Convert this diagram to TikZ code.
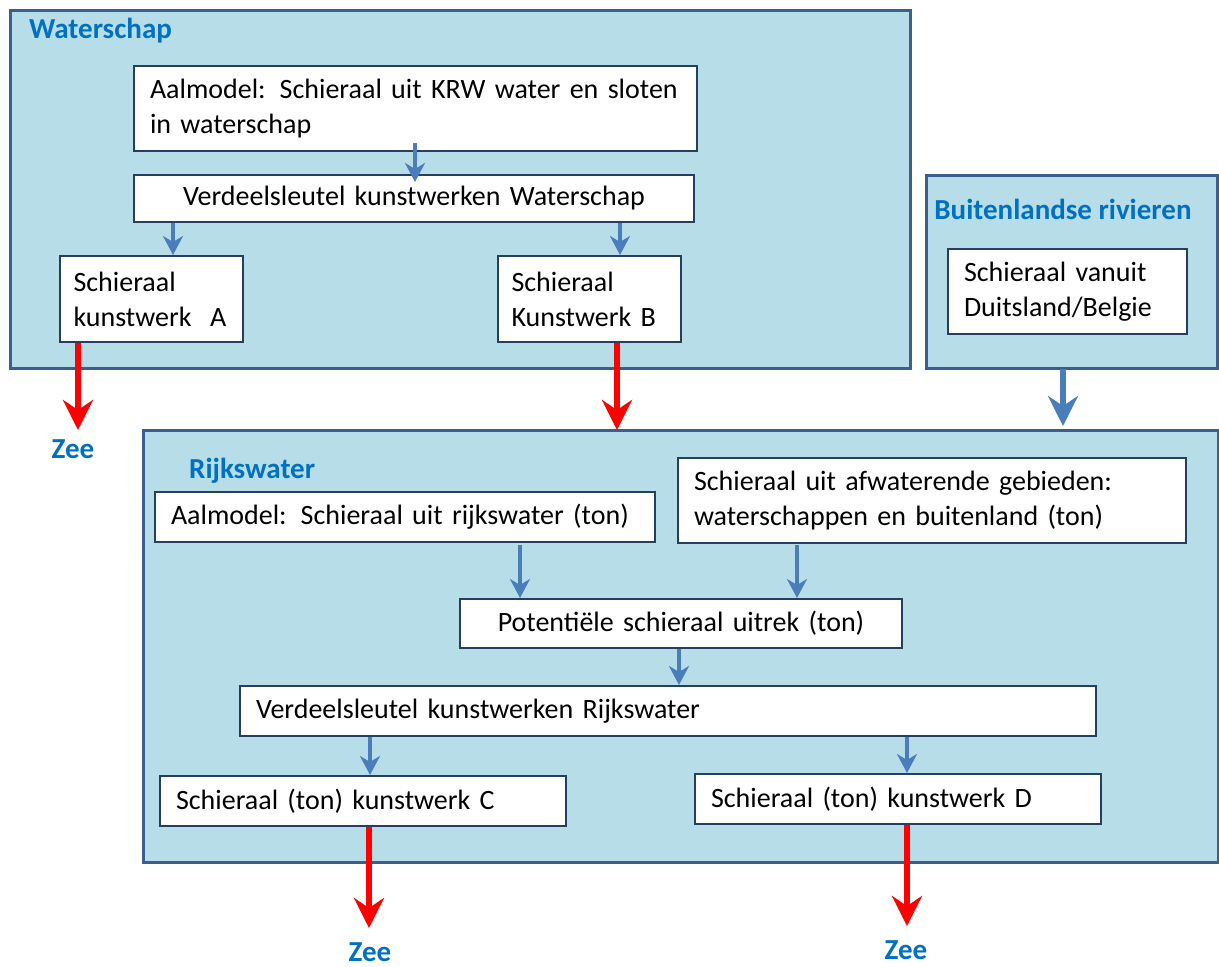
\documentclass[tikz,border=0pt]{standalone}
\usepackage{fontspec}
\setmainfont{Carlito}
\usetikzlibrary{arrows.meta}
\definecolor{panelfill}{HTML}{B7DEE8}
\definecolor{panelline}{HTML}{3B5E8C}
\definecolor{boxline}{HTML}{243F60}
\definecolor{arrblue}{HTML}{4A7EBB}
\definecolor{lblblue}{HTML}{0070C0}
\definecolor{arrred}{HTML}{FF0000}
\tikzset{
  panel/.style={draw=panelline, line width=3pt, fill=panelfill},
  wbox/.style={draw=boxline, line width=2pt, fill=white, inner xsep=16pt, inner ysep=4pt,
    font=\fontsize{28}{35}\selectfont, align=left},
  cbox/.style={wbox, align=center},
  plabel/.style={font=\fontsize{29}{32}\selectfont\bfseries, text=lblblue, inner sep=0pt},
  barrow/.style={draw=arrblue, line width=3.5pt, -{Stealth[length=19pt,width=20pt,inset=6pt]}},
  bigblue/.style={draw=arrblue, line width=6pt, -{Stealth[length=30pt,width=30pt,inset=10pt]}},
  rarrow/.style={draw=arrred, line width=6pt, -{Stealth[length=30pt,width=30pt,inset=10pt]}},
}
\begin{document}
\begin{tikzpicture}[x=1pt,y=-1pt]
\useasboundingbox (0,0) rectangle (1219,967);
% panels
\draw[panel] (10,10) rectangle (910,368);
\draw[panel] (926,175) rectangle (1217,368);
\draw[panel] (143,430) rectangle (1218,862);
\node[plabel, anchor=west] (lw) at (29,31) {Waterschap};
\node[plabel, anchor=center] (lb) at (1063,209) {Buitenlandse rivieren};
\node[plabel, anchor=west] (lr) at (189,471) {Rijkswater};
% Waterschap boxes
\node[wbox, minimum width=563, minimum height=85, text width=531] (A1) at (415.5,108.5)
  {Aalmodel: Schieraal uit KRW water en sloten\\in waterschap};
\node[cbox, minimum width=560, minimum height=47, text width=528] (V1) at (414,198.5)
  {Verdeelsleutel kunstwerken Waterschap};
\node[wbox, inner xsep=13.5pt, minimum width=183, minimum height=86, text width=156] (SA) at (151.5,299)
  {Schieraal\\kunstwerk\ \ A};
\node[wbox, inner xsep=13.5pt, minimum width=183, minimum height=86, text width=156] (SB) at (589.5,299)
  {Schieraal\\Kunstwerk B};
% Buitenland
\node[wbox, minimum width=239, minimum height=85, text width=207] (SD) at (1067.5,291.5)
  {Schieraal vanuit\\Duitsland/Belgie};
% Rijkswater boxes
\node[wbox, minimum width=500, minimum height=50, text width=468] (R1) at (405,517)
  {Aalmodel: Schieraal uit rijkswater (ton)};
\node[wbox, minimum width=508, minimum height=85, text width=476] (R2) at (932,500.5)
  {Schieraal uit afwaterende gebieden:\\waterschappen en buitenland (ton)};
\node[cbox, minimum width=442, minimum height=49, text width=410] (P) at (681,623.5)
  {Potentiële schieraal uitrek (ton)};
\node[wbox, minimum width=856, minimum height=50, text width=824] (V2) at (668,711)
  {Verdeelsleutel kunstwerken Rijkswater};
\node[wbox, minimum width=406, minimum height=50, text width=374] (C) at (363,801)
  {Schieraal (ton) kunstwerk C};
\node[wbox, minimum width=406, minimum height=50, text width=374] (D) at (898,799)
  {Schieraal (ton) kunstwerk D};
% Zee labels
\node[plabel] (z1) at (73,449) {Zee};
\node[plabel] (z2) at (370,952) {Zee};
\node[plabel] (z3) at (906,950) {Zee};
% arrow end points
\coordinate (a1s) at (415,143);
\coordinate (a1e) at (415,182);
\coordinate (r1s) at (520,545);
\coordinate (r2s) at (797,545);
\coordinate (bs) at (1063,369);
\coordinate (be) at (1063,426);
\coordinate (z1t) at (78,430);
\coordinate (sbt) at (617,430);
\coordinate (z2t) at (369,928);
\coordinate (z3t) at (907,926);
% blue arrows
\draw[barrow] (a1s) -- (a1e);
\draw[barrow] (V1.south -| 173,0) -- (SA.north -| 173,0);
\draw[barrow] (V1.south -| 620,0) -- (SB.north -| 620,0);
\draw[barrow] (r1s) -- (P.north -| r1s);
\draw[barrow] (r2s) -- (P.north -| r2s);
\draw[barrow] (P.south -| 679,0) -- (V2.north -| 679,0);
\draw[barrow] (V2.south -| 370,0) -- (C.north -| 370,0);
\draw[barrow] (V2.south -| 907,0) -- (D.north -| 907,0);
\draw[bigblue] (bs) -- (be);
% red arrows
\draw[rarrow] (SA.south -| z1t) -- (z1t);
\draw[rarrow] (SB.south -| sbt) -- (sbt);
\draw[rarrow] (C.south -| z2t) -- (z2t);
\draw[rarrow] (D.south -| z3t) -- (z3t);
\end{tikzpicture}
\end{document}
